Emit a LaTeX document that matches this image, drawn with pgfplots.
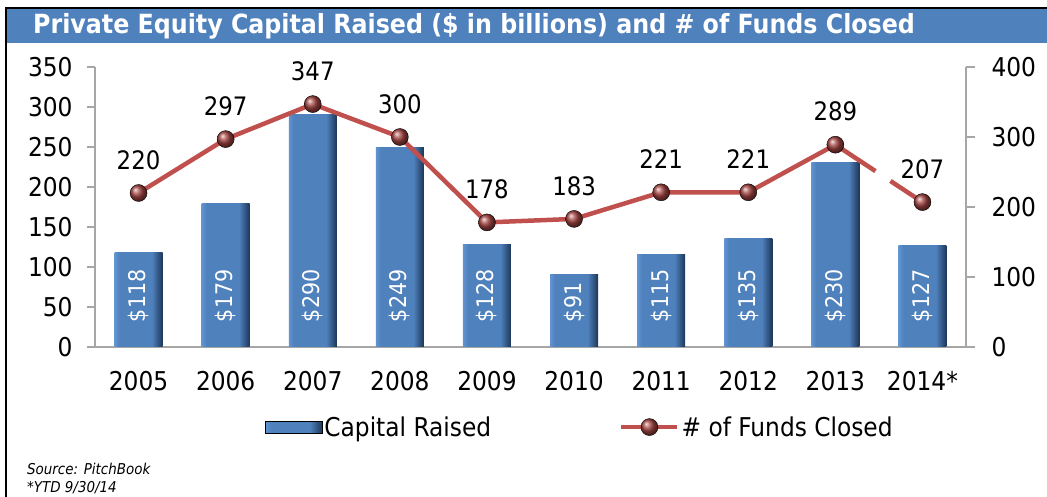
\documentclass[border=0pt]{standalone}
\usepackage{pgfplots}
\pgfplotsset{compat=1.18}
\usepackage{pgfplotstable}
\usepackage{fontspec}
\setmainfont{DejaVu Sans Condensed}
\definecolor{titleblue}{HTML}{4F81BD}
\definecolor{barblue}{HTML}{4F81BD}
\definecolor{bardark}{HTML}{1C3657}
\definecolor{barlight}{HTML}{6394D2}
\definecolor{linered}{HTML}{C0504D}
\definecolor{axgray}{HTML}{A6A6A6}
\pgfdeclarehorizontalshading{barshade}{100bp}{color(0bp)=(barlight); color(25bp)=(barlight); color(30bp)=(barblue); color(64bp)=(barblue); color(75bp)=(bardark); color(100bp)=(bardark)}
\pgfplotstableread{
x cap funds lab
0 118 220 31
1 179 297 31
2 290 347 31
3 249 300 31
4 128 178 31
5 91 183 31
6 115 221 31
7 135 221 31
8 230 289 31
9 127 207 31
}\data
\pgfplotstableread{
x funds
8 289
9 207
}\dashdata
\newcommand{\bigf}{\fontsize{26}{30}\selectfont}
\pgfplotsset{barstyle/.style={ybar, bar width=48bp, draw=none, shading=barshade, forget plot}}
\begin{document}
\begin{tikzpicture}[x=1bp,y=1bp]
\path[use as bounding box, fill=white] (0bp,0bp) rectangle (1047bp,497bp);
\fill[titleblue] (5bp,454bp) rectangle (1047bp,488bp);
\draw[black, line width=2.5bp] (5bp,489bp) -- (1047bp,489bp);
\draw[black, line width=2bp] (6bp,490bp) -- (6bp,0bp);
\node[anchor=west, text=white, font=\bfseries\fontsize{26.5}{30}\selectfont, inner sep=0] at (33bp,471bp) {Private Equity Capital Raised (\$ in billions) and \# of Funds Closed};
\node[anchor=west, inner sep=0, font=\itshape\fontsize{15}{18}\selectfont] at (27bp,28bp) {Source: PitchBook};
\node[anchor=west, inner sep=0, font=\itshape\fontsize{15}{18}\selectfont] at (27bp,9bp) {*YTD 9/30/14};

\begin{axis}[
  at={(95bp,150bp)}, anchor=south west,
  scale only axis, width=871bp, height=280bp,
  xmin=-0.5, xmax=9.5, ymin=0, ymax=350,
  axis y line*=left, axis x line*=bottom,
  axis line style={axgray, line width=1.2bp, -},
  xtick={0,...,9}, xticklabels={2005,2006,2007,2008,2009,2010,2011,2012,2013,2014*},
  x tick style={draw=none},
  xticklabel style={yshift=-13bp},
  ytick={0,50,...,350},
  yticklabel style={xshift=-11bp},
  y tick style={axgray, line width=1.2bp},
  tick align=outside, major tick length=8bp,
  ticklabel style={font=\bigf},
  /pgf/number format/assume math mode=true,
  legend style={draw=none, fill=none, at={(0.195,-0.286)}, anchor=west,
    legend columns=2, font=\bigf, inner sep=0pt,
    /tikz/every even column/.append style={column sep=126bp}},
  clip=false,
]
\addplot[barstyle] coordinates {(0,118)};
\addplot[barstyle] coordinates {(1,179)};
\addplot[barstyle] coordinates {(2,290)};
\addplot[barstyle] coordinates {(3,249)};
\addplot[barstyle] coordinates {(4,128)};
\addplot[barstyle] coordinates {(5,91)};
\addplot[barstyle] coordinates {(6,115)};
\addplot[barstyle] coordinates {(7,135)};
\addplot[barstyle] coordinates {(8,230)};
\addplot[barstyle] coordinates {(9,127)};
\addplot[draw=none, mark=none, forget plot, point meta=explicit,
  nodes near coords={\$\pgfmathprintnumber[fixed,precision=0]{\pgfplotspointmeta}},
  every node near coord/.append style={rotate=90, anchor=west, inner sep=0pt, text=white, font=\fontsize{23}{27}\selectfont}]
  table[x=x, y=lab, meta=cap] {\data};
\addlegendimage{legend image code/.code={\shade[shading=barshade] (0bp,-6bp) rectangle (57bp,6bp);}}
\addlegendentry{Capital Raised}
\addlegendimage{legend image code/.code={
  \draw[linered, line width=4.5bp] (0bp,0bp) -- (56bp,0bp);
  \shade[ball color=linered!85!black] (28bp,0bp) circle (8.5bp);}}
\addlegendentry{\# of Funds Closed}
\end{axis}

\begin{axis}[
  at={(95bp,150bp)}, anchor=south west,
  scale only axis, width=871bp, height=280bp,
  xmin=-0.5, xmax=9.5, ymin=0, ymax=400,
  axis x line=none, axis y line*=right,
  axis line style={axgray, line width=1.2bp, -},
  ytick={0,100,...,400},
  yticklabel style={xshift=13bp},
  y tick style={axgray, line width=1.2bp},
  tick align=outside, major tick length=9bp,
  ticklabel style={font=\bigf},
  /pgf/number format/assume math mode=true,
  clip=false,
]
\addplot[linered, line width=4.5bp, mark=none, restrict x to domain=0:8] table[x=x, y=funds] {\data};
\addplot[linered, line width=4.5bp, mark=none, dash pattern=on 48bp off 18bp] table[x=x, y=funds] {\dashdata};
\addplot[only marks, mark=ball, mark size=8.5bp, mark options={ball color=linered!85!black},
  nodes near coords,
  every node near coord/.append style={font=\fontsize{25.5}{30}\selectfont, anchor=center, yshift=33bp, text=black}]
  table[x=x, y=funds] {\data};
\end{axis}
\end{tikzpicture}
\end{document}
